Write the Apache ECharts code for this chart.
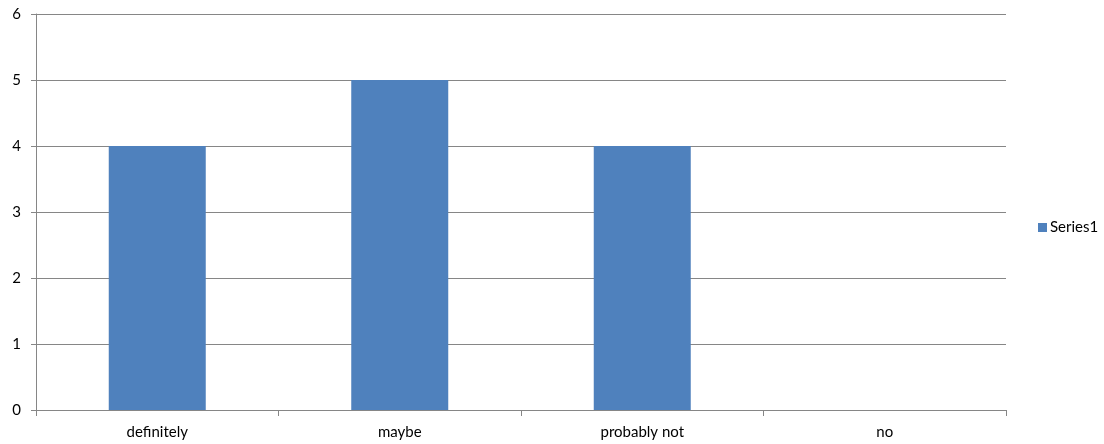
<!DOCTYPE html>
<html>
<head>
<meta charset="utf-8">
<script src="https://cdn.jsdelivr.net/npm/echarts@6/dist/echarts.min.js"></script>
<style>
  html, body { margin: 0; padding: 0; background: #ffffff; }
  #chart { width: 1104px; height: 444px; }
</style>
</head>
<body>
<div id="chart"></div>
<script>
// Survey answers and how many respondents picked each one
const categories = ['definitely', 'maybe', 'probably not', 'no'];
const series1 = [4, 5, 4, 0];
const seriesName = 'Series1';

const font = 'Lato, "Open Sans", sans-serif';
const gridColor = '#868686';

const chart = echarts.init(document.getElementById('chart'), null, { renderer: 'canvas' });
chart.setOption({
  animation: false,
  backgroundColor: '#ffffff',
  grid: { left: 36, right: 98, top: 14, bottom: 34, containLabel: false },
  legend: {
    data: [seriesName],
    left: 1033,
    top: 215,
    orient: 'vertical',
    icon: 'rect',
    itemWidth: 9,
    itemHeight: 9,
    itemGap: 4,
    textStyle: { fontFamily: font, fontSize: 15, color: '#000000', padding: [0, 0, 0, -2] }
  },
  xAxis: {
    type: 'category',
    data: categories,
    boundaryGap: true,
    axisLine: { show: true, lineStyle: { color: gridColor, width: 1 } },
    axisTick: { show: true, length: 6, alignWithLabel: false, lineStyle: { color: gridColor } },
    axisLabel: { fontFamily: font, fontSize: 15, color: '#000000', margin: 15 },
    splitLine: { show: false }
  },
  yAxis: {
    type: 'value',
    min: 0,
    max: 6,
    interval: 1,
    axisLine: { show: true, lineStyle: { color: gridColor, width: 1 } },
    axisTick: { show: true, length: 5, lineStyle: { color: gridColor } },
    axisLabel: { fontFamily: font, fontSize: 15, color: '#000000', margin: 15 },
    splitLine: { show: true, lineStyle: { color: gridColor, width: 1 } }
  },
  series: [{
    name: seriesName,
    type: 'bar',
    data: series1,
    barWidth: '40%',
    itemStyle: { color: '#4F81BD', borderWidth: 0 }
  }]
});
</script>
</body>
</html>
